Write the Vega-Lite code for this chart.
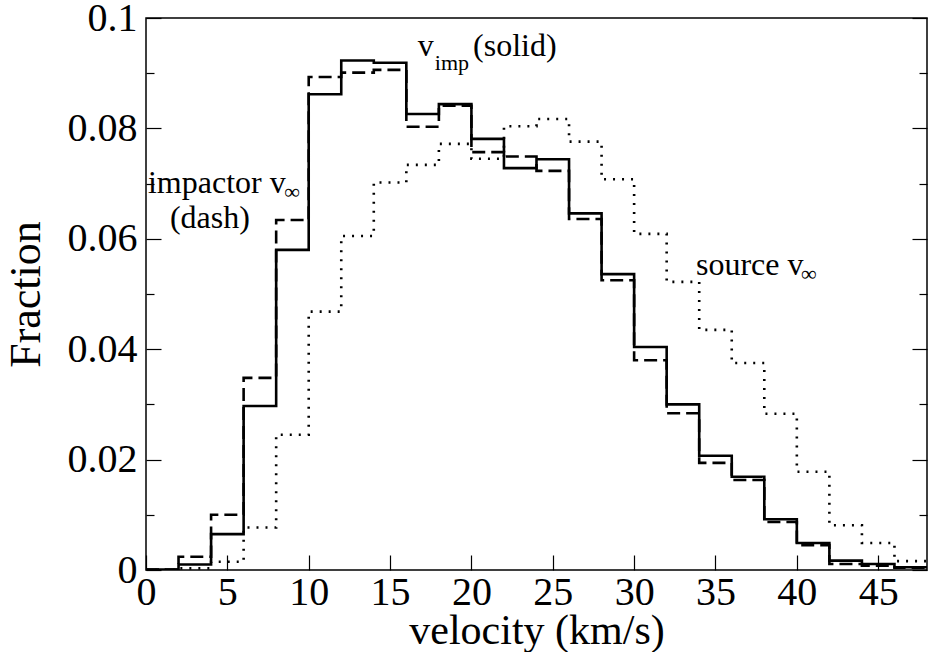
{
  "$schema": "https://vega.github.io/schema/vega-lite/v6.json",
  "width": 781,
  "height": 552,
  "autosize": {"type": "none"},
  "padding": {"left": 146, "top": 18, "right": 1, "bottom": 82},
  "background": "white",
  "config": {
    "view": {"stroke": "black", "strokeWidth": 1.5},
    "font": "Liberation Serif, serif",
    "text": {"font": "Liberation Serif, serif"},
    "axis": {
      "domain": false,
      "grid": false,
      "labelFont": "Liberation Serif, serif",
      "titleFont": "Liberation Serif, serif",
      "tickColor": "black",
      "labelColor": "black",
      "titleColor": "black",
      "titleFontWeight": "normal",
      "tickWidth": 1.2
    }
  },
  "datasets": {
    "hist": [
      {"s": "vimp", "lo": 0, "hi": 2, "f": 0.0001},
      {"s": "vimp", "lo": 2, "hi": 4, "f": 0.001},
      {"s": "vimp", "lo": 4, "hi": 6, "f": 0.0065},
      {"s": "vimp", "lo": 6, "hi": 8, "f": 0.0297},
      {"s": "vimp", "lo": 8, "hi": 10, "f": 0.058},
      {"s": "vimp", "lo": 10, "hi": 12, "f": 0.0862},
      {"s": "vimp", "lo": 12, "hi": 14, "f": 0.0923},
      {"s": "vimp", "lo": 14, "hi": 16, "f": 0.0919},
      {"s": "vimp", "lo": 16, "hi": 18, "f": 0.0826},
      {"s": "vimp", "lo": 18, "hi": 20, "f": 0.0844},
      {"s": "vimp", "lo": 20, "hi": 22, "f": 0.0781},
      {"s": "vimp", "lo": 22, "hi": 24, "f": 0.0728},
      {"s": "vimp", "lo": 24, "hi": 26, "f": 0.0744},
      {"s": "vimp", "lo": 26, "hi": 28, "f": 0.0646},
      {"s": "vimp", "lo": 28, "hi": 30, "f": 0.0536},
      {"s": "vimp", "lo": 30, "hi": 32, "f": 0.0404},
      {"s": "vimp", "lo": 32, "hi": 34, "f": 0.030},
      {"s": "vimp", "lo": 34, "hi": 36, "f": 0.0207},
      {"s": "vimp", "lo": 36, "hi": 38, "f": 0.0169},
      {"s": "vimp", "lo": 38, "hi": 40, "f": 0.0092},
      {"s": "vimp", "lo": 40, "hi": 42, "f": 0.0049},
      {"s": "vimp", "lo": 42, "hi": 44, "f": 0.0017},
      {"s": "vimp", "lo": 44, "hi": 46, "f": 0.0011},
      {"s": "vimp", "lo": 46, "hi": 48, "f": 0.0005},
      {"s": "impactor", "lo": 0, "hi": 2, "f": 0.0001},
      {"s": "impactor", "lo": 2, "hi": 4, "f": 0.0024},
      {"s": "impactor", "lo": 4, "hi": 6, "f": 0.0100},
      {"s": "impactor", "lo": 6, "hi": 8, "f": 0.0348},
      {"s": "impactor", "lo": 8, "hi": 10, "f": 0.0634},
      {"s": "impactor", "lo": 10, "hi": 12, "f": 0.0893},
      {"s": "impactor", "lo": 12, "hi": 14, "f": 0.0901},
      {"s": "impactor", "lo": 14, "hi": 16, "f": 0.0906},
      {"s": "impactor", "lo": 16, "hi": 18, "f": 0.0803},
      {"s": "impactor", "lo": 18, "hi": 20, "f": 0.0841},
      {"s": "impactor", "lo": 20, "hi": 22, "f": 0.0757},
      {"s": "impactor", "lo": 22, "hi": 24, "f": 0.0749},
      {"s": "impactor", "lo": 24, "hi": 26, "f": 0.0723},
      {"s": "impactor", "lo": 26, "hi": 28, "f": 0.0636},
      {"s": "impactor", "lo": 28, "hi": 30, "f": 0.0525},
      {"s": "impactor", "lo": 30, "hi": 32, "f": 0.0380},
      {"s": "impactor", "lo": 32, "hi": 34, "f": 0.0284},
      {"s": "impactor", "lo": 34, "hi": 36, "f": 0.0194},
      {"s": "impactor", "lo": 36, "hi": 38, "f": 0.0163},
      {"s": "impactor", "lo": 38, "hi": 40, "f": 0.0087},
      {"s": "impactor", "lo": 40, "hi": 42, "f": 0.0045},
      {"s": "impactor", "lo": 42, "hi": 44, "f": 0.0011},
      {"s": "impactor", "lo": 44, "hi": 46, "f": 0.0008},
      {"s": "impactor", "lo": 46, "hi": 48, "f": 0.0004},
      {"s": "source", "lo": 0, "hi": 2, "f": 0.0},
      {"s": "source", "lo": 2, "hi": 4, "f": 0.0003},
      {"s": "source", "lo": 4, "hi": 6, "f": 0.0015},
      {"s": "source", "lo": 6, "hi": 8, "f": 0.0077},
      {"s": "source", "lo": 8, "hi": 10, "f": 0.0245},
      {"s": "source", "lo": 10, "hi": 12, "f": 0.0468},
      {"s": "source", "lo": 12, "hi": 14, "f": 0.0605},
      {"s": "source", "lo": 14, "hi": 16, "f": 0.0702},
      {"s": "source", "lo": 16, "hi": 18, "f": 0.0734},
      {"s": "source", "lo": 18, "hi": 20, "f": 0.0772},
      {"s": "source", "lo": 20, "hi": 22, "f": 0.0745},
      {"s": "source", "lo": 22, "hi": 24, "f": 0.0804},
      {"s": "source", "lo": 24, "hi": 26, "f": 0.0817},
      {"s": "source", "lo": 26, "hi": 28, "f": 0.0776},
      {"s": "source", "lo": 28, "hi": 30, "f": 0.0708},
      {"s": "source", "lo": 30, "hi": 32, "f": 0.0609},
      {"s": "source", "lo": 32, "hi": 34, "f": 0.0522},
      {"s": "source", "lo": 34, "hi": 36, "f": 0.0435},
      {"s": "source", "lo": 36, "hi": 38, "f": 0.0375},
      {"s": "source", "lo": 38, "hi": 40, "f": 0.0283},
      {"s": "source", "lo": 40, "hi": 42, "f": 0.0178},
      {"s": "source", "lo": 42, "hi": 44, "f": 0.0081},
      {"s": "source", "lo": 44, "hi": 46, "f": 0.0049},
      {"s": "source", "lo": 46, "hi": 48, "f": 0.0016}
    ],
    "notes": [
      {"t": "v", "x": 16.7, "y": 0.0931},
      {"t": "(solid)", "x": 20.1, "y": 0.0931},
      {"t": "impactor v", "x": 0.12, "y": 0.0683},
      {"t": "(dash)", "x": 1.47, "y": 0.0620},
      {"t": "source v", "x": 33.8, "y": 0.0534}
    ],
    "subs": [
      {"t": "imp", "x": 17.75, "y": 0.0906},
      {"t": "∞", "x": 8.5, "y": 0.0672},
      {"t": "∞", "x": 40.25, "y": 0.0524}
    ]
  },
  "layer": [
    {
      "data": {"name": "hist"},
      "transform": [{"fold": ["lo", "hi"], "as": ["edge", "v"]}],
      "mark": {"type": "line", "color": "black", "clip": true, "strokeCap": "butt"},
      "encoding": {
        "x": {
          "field": "v", "type": "quantitative",
          "scale": {"domain": [0, 48], "nice": false, "zero": false},
          "axis": {
            "orient": "bottom",
            "values": [0, 5, 10, 15, 20, 25, 30, 35, 40, 45],
            "tickSize": -15,
            "labelFontSize": 40,
            "labelPadding": 17,
            "labelFlush": false,
            "labelOverlap": false,
            "title": "velocity (km/s)",
            "titleFontSize": 42,
            "titlePadding": -2
          }
        },
        "y": {
          "field": "f", "type": "quantitative",
          "scale": {"domain": [0, 0.1], "nice": false, "zero": false},
          "axis": {
            "orient": "left",
            "values": [0, 0.01, 0.02, 0.03, 0.04, 0.05, 0.06, 0.07, 0.08, 0.09, 0.1],
            "tickSize": {"condition": {"test": "round(datum.value*100) % 2 == 0", "value": -15}, "value": -8},
            "labelExpr": "round(datum.value*100) % 2 == 0 ? format(datum.value, '~g') : ''",
            "labelFontSize": 40,
            "labelPadding": 24,
            "labelFlush": false,
            "labelOverlap": false,
            "title": "Fraction",
            "titleFontSize": 44,
            "titlePadding": 19
          }
        },
        "detail": {"field": "s", "type": "nominal"},
        "strokeDash": {
          "field": "s", "type": "nominal",
          "scale": {"domain": ["vimp", "impactor", "source"], "range": [[1, 0], [13, 6], [2, 7]]},
          "legend": null
        },
        "strokeWidth": {
          "field": "s", "type": "nominal",
          "scale": {"domain": ["vimp", "impactor", "source"], "range": [2.6, 2.6, 2.2]},
          "legend": null
        },
        "order": [
          {"field": "v", "type": "quantitative"},
          {"field": "edge", "type": "nominal", "sort": "descending"}
        ]
      }
    },
    {
      "data": {"name": "hist"},
      "mark": {"type": "point", "opacity": 0},
      "encoding": {
        "x": {"field": "lo", "type": "quantitative", "scale": {"domain": [0, 48], "nice": false, "zero": false}, "axis": null},
        "y": {
          "field": "f", "type": "quantitative",
          "scale": {"domain": [0, 0.1], "nice": false, "zero": false},
          "axis": {
            "orient": "right",
            "values": [0, 0.01, 0.02, 0.03, 0.04, 0.05, 0.06, 0.07, 0.08, 0.09, 0.1],
            "tickSize": {"condition": {"test": "round(datum.value*100) % 2 == 0", "value": -15}, "value": -8},
            "labels": false,
            "title": null
          }
        }
      }
    },
    {
      "data": {"name": "notes"},
      "mark": {"type": "text", "align": "left", "baseline": "alphabetic", "fontSize": 32, "font": "Liberation Serif, serif", "color": "black"},
      "encoding": {
        "x": {"field": "x", "type": "quantitative", "scale": {"domain": [0, 48], "nice": false, "zero": false}, "axis": null},
        "y": {"field": "y", "type": "quantitative", "scale": {"domain": [0, 0.1], "nice": false, "zero": false}, "axis": null},
        "text": {"field": "t"}
      }
    },
    {
      "data": {"name": "subs"},
      "mark": {"type": "text", "align": "left", "baseline": "alphabetic", "fontSize": 22, "font": "Liberation Serif, serif", "color": "black"},
      "encoding": {
        "x": {"field": "x", "type": "quantitative", "scale": {"domain": [0, 48], "nice": false, "zero": false}, "axis": null},
        "y": {"field": "y", "type": "quantitative", "scale": {"domain": [0, 0.1], "nice": false, "zero": false}, "axis": null},
        "text": {"field": "t"}
      }
    }
  ],
  "resolve": {"scale": {"x": "independent", "y": "independent"}}
}
